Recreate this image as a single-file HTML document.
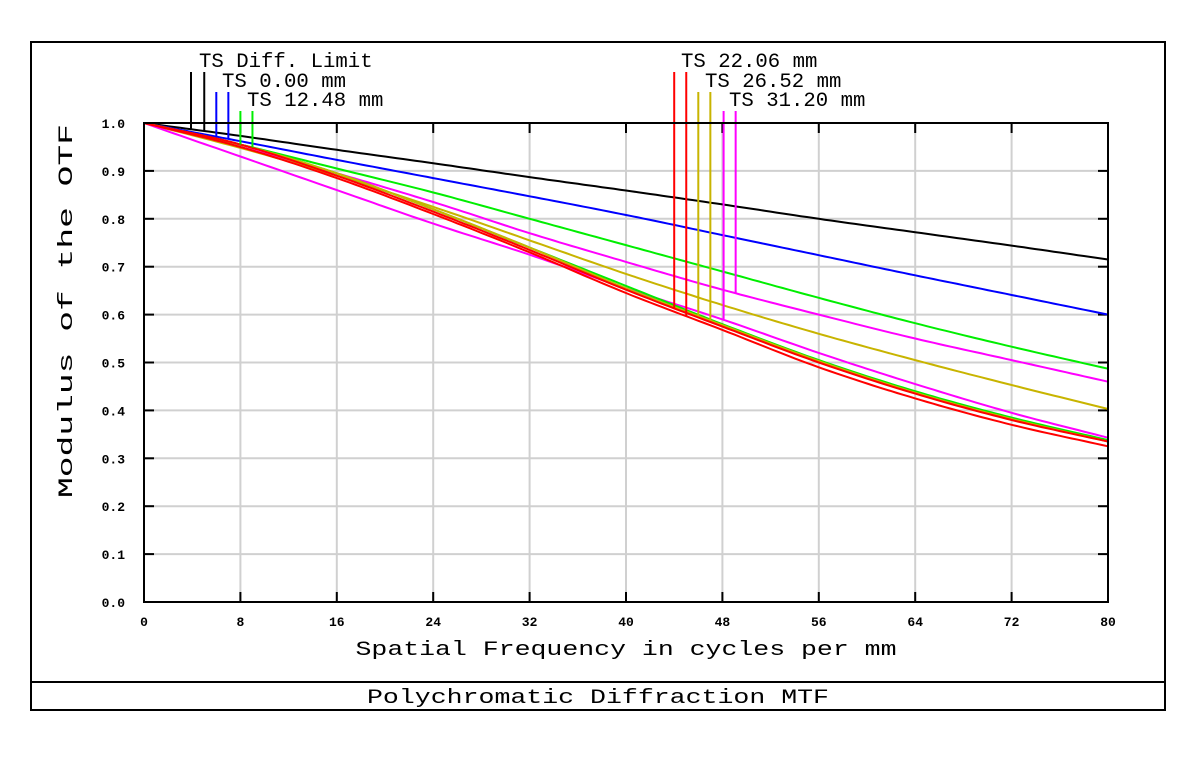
<!DOCTYPE html>
<html><head><meta charset="utf-8"><style>
body{margin:0;background:#fff;}
svg{display:block;}
text{font-family:"Liberation Mono","DejaVu Sans Mono",monospace;fill:#000;}
</style></head><body>
<svg id="chart" width="1200" height="760" viewBox="0 0 1200 760">
<rect x="31" y="42" width="1134" height="668" fill="none" stroke="#000" stroke-width="2"/>
<line x1="31" y1="682" x2="1165" y2="682" stroke="#000" stroke-width="2"/>
<text x="598" y="703" text-anchor="middle" font-size="20" textLength="462" lengthAdjust="spacingAndGlyphs">Polychromatic Diffraction MTF</text>
<text x="626" y="655" text-anchor="middle" font-size="20" textLength="541" lengthAdjust="spacingAndGlyphs">Spatial Frequency in cycles per mm</text>
<text transform="translate(72,311) rotate(-90)" text-anchor="middle" font-size="20" textLength="374" lengthAdjust="spacingAndGlyphs">Modulus of the OTF</text>
<g id="grid"></g><g id="ticks"></g><g id="series"></g><g id="legend"></g>
<rect x="144" y="123" width="964" height="479" fill="none" stroke="#000" stroke-width="2"/>
</svg>
<script>
const freqs=[0,8,16,24,32,40,48,56,64,72,80];
const xTicks=[0,8,16,24,32,40,48,56,64,72,80];
const yTicks=[0,0.1,0.2,0.3,0.4,0.5,0.6,0.7,0.8,0.9,1.0];
const diffLimit=[1,0.973,0.944,0.916,0.887,0.859,0.83,0.80,0.772,0.744,0.715];
const f0T=[1,0.962,0.923,0.885,0.847,0.808,0.766,0.724,0.682,0.641,0.60];
const f1T=[1,0.955,0.905,0.855,0.80,0.745,0.69,0.635,0.582,0.533,0.487];
const f1S=[1,0.955,0.895,0.82,0.74,0.66,0.58,0.505,0.44,0.385,0.338];
const f2T=[1,0.955,0.89,0.815,0.735,0.652,0.575,0.50,0.435,0.38,0.335];
const f2S=[1,0.95,0.885,0.81,0.73,0.645,0.568,0.49,0.425,0.37,0.325];
const f3T=[1,0.948,0.89,0.825,0.755,0.685,0.62,0.56,0.505,0.453,0.403];
const f3S=[1,0.955,0.895,0.82,0.74,0.655,0.578,0.503,0.437,0.382,0.335];
const f4T=[1,0.95,0.895,0.835,0.77,0.71,0.652,0.60,0.55,0.505,0.46];
const f4S=[1,0.93,0.86,0.79,0.725,0.655,0.59,0.52,0.455,0.395,0.343];
const legendLabels=["TS Diff. Limit","TS 0.00 mm","TS 12.48 mm","TS 22.06 mm","TS 26.52 mm","TS 31.20 mm"];
const legendMarkerFreqs=[[3.9,5.0],[6.0,7.0],[8.0,9.0],[44.0,45.0],[46.0,47.0],[48.1,49.1]];

const NS="http://www.w3.org/2000/svg";
const X=f=>144+f*(964/80), Y=v=>602-v*479;
function mk(tag,attrs,parent){const e=document.createElementNS(NS,tag);for(const k in attrs)e.setAttribute(k,attrs[k]);parent.appendChild(e);return e;}
const grid=document.getElementById('grid'),ticks=document.getElementById('ticks');
xTicks.forEach(t=>{
 const l=mk('line',{x1:X(t),x2:X(t),y1:123,y2:602,stroke:'#d0d0d0','stroke-width':2},grid);
 
 
 [[602,592],[123,133]].forEach(p=>{const tk=mk('line',{x1:X(t),x2:X(t),y1:p[0],y2:p[1],stroke:'#000','stroke-width':2},ticks);
 
 });
 const tx=mk('text',{x:X(t),y:626,'text-anchor':'middle','font-size':13,'font-weight':'bold'},ticks);
 tx.textContent=t;
 
 
});
yTicks.forEach(t=>{
 const l=mk('line',{x1:144,x2:1108,y1:Y(t),y2:Y(t),stroke:'#d0d0d0','stroke-width':2},grid);
 
 
 [[144,154],[1108,1098]].forEach(p=>{const tk=mk('line',{x1:p[0],x2:p[1],y1:Y(t),y2:Y(t),stroke:'#000','stroke-width':2},ticks);
 
 });
 const tx=mk('text',{x:125,y:Y(t)+5,'text-anchor':'end','font-size':13,'font-weight':'bold'},ticks);
 tx.textContent=t.toFixed(1);
 
 
});
function interp(arr,f){
 const n=freqs.length;
 for(let i=0;i<n-1;i++){
  if(f<=freqs[i+1]){
   const t=(f-freqs[i])/(freqs[i+1]-freqs[i]);
   const p0=arr[Math.max(i-1,0)],p1=arr[i],p2=arr[i+1],p3=arr[Math.min(i+2,n-1)];
   const m1=(p2-p0)/(i>0?2:1)*(i>0?1:1), m2=(p3-p1)/(i+2<n?2:1);
   const a=i>0?(p2-p0)/2:(p2-p1), b=i+2<n?(p3-p1)/2:(p2-p1);
   const t2=t*t,t3=t2*t;
   return (2*t3-3*t2+1)*p1+(t3-2*t2+t)*a+(-2*t3+3*t2)*p2+(t3-t2)*b;
  }
 }
 return arr[n-1];
}
function smooth(arr){const pts=[];for(let f=0;f<=80;f+=0.5)pts.push(X(f).toFixed(1)+','+Y(interp(arr,f)).toFixed(1));return pts.join(' ');}
const seriesG=document.getElementById('series');
const seriesList=[[diffLimit,'#000','diff-limit'],[f0T,'#0000ff','field-0-ts'],[f4T,'#ff00ff','field-31-t'],[f3T,'#c8b400','field-26-t'],[f1T,'#00ee00','field-12-t'],[f4S,'#ff00ff','field-31-s'],[f1S,'#00ee00','field-12-s'],[f3S,'#c8b400','field-26-s'],[f2T,'#ff0000','field-22-t'],[f2S,'#ff0000','field-22-s']];
seriesList.forEach(s=>{
 const p=mk('polyline',{points:smooth(s[0]),fill:'none',stroke:s[1],'stroke-width':2},seriesG);
 
 
});
const legendG=document.getElementById('legend');
const legendColors=['#000','#0000ff','#00ee00','#ff0000','#c8b400','#ff00ff'];
const legendCurves=[[diffLimit,diffLimit],[f0T,f0T],[f1T,f1T],[f2T,f2S],[f3S,f3S],[f4S,f4T]];
const legendTextX=[199,222,247,681,705,729];
const legendTop=[72,92,111,72,92,111];
legendLabels.forEach((lab,i)=>{
 legendMarkerFreqs[i].forEach((f,j)=>{
  const yEnd=Math.max(Y(interp(legendCurves[i][j],f)),123);
  const l=mk('line',{x1:X(f),x2:X(f),y1:legendTop[i],y2:yEnd,stroke:legendColors[i],'stroke-width':2},legendG);
  
  
 });
 const t=mk('text',{x:legendTextX[i],y:legendTop[i]-5,'font-size':20.5,textLength:lab.length*12.4,lengthAdjust:'spacingAndGlyphs'},legendG);
 t.textContent=lab;
 
 
});
</script>
</body></html>
